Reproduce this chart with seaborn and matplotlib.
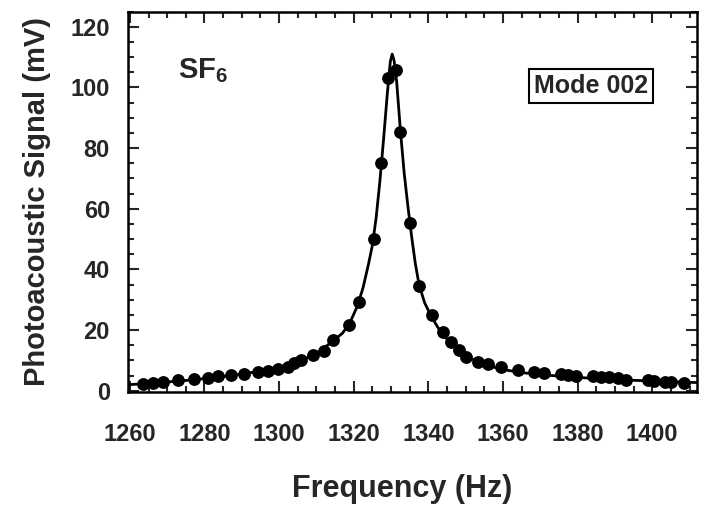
import numpy as np
import pandas as pd
import matplotlib
matplotlib.use("Agg")
import matplotlib.pyplot as plt
import seaborn as sns
from matplotlib.ticker import MultipleLocator

# measured points (frequency in Hz, signal in mV)
freq_pts = [1263.5, 1266.2, 1268.8, 1272.9, 1277.3, 1280.9, 1283.6, 1287.1, 1290.7,
            1294.3, 1296.9, 1299.7, 1302.3, 1304.1, 1305.9, 1309.0, 1312.1, 1314.4,
            1318.8, 1321.5, 1325.3, 1327.3, 1329.3, 1331.3, 1332.4, 1335.1, 1337.5,
            1341.1, 1343.8, 1346.1, 1348.3, 1350.1, 1353.2, 1355.9, 1359.5, 1363.9,
            1368.4, 1371.0, 1375.5, 1377.3, 1379.6, 1384.0, 1386.2, 1388.5, 1390.7,
            1393.0, 1398.8, 1400.6, 1403.3, 1405.1, 1408.6]
signal_pts = [2.3, 2.5, 3.0, 3.6, 3.9, 4.3, 4.9, 5.2, 5.5,
              6.3, 6.6, 7.2, 7.9, 9.0, 10.3, 11.8, 13.2, 16.7,
              21.7, 29.4, 50.1, 75.2, 103.0, 105.9, 85.4, 55.2, 34.6,
              25.0, 19.5, 16.2, 13.4, 11.2, 9.5, 8.7, 7.9, 6.8,
              6.2, 5.7, 5.5, 5.2, 4.8, 4.8, 4.6, 4.4, 4.1,
              3.5, 3.5, 3.2, 3.0, 3.0, 2.7]

# fitted curve
freq_fit = [1259.5, 1265, 1270, 1275, 1280, 1285, 1290, 1295, 1300, 1305, 1310,
            1314, 1317, 1319, 1321, 1322.5, 1324, 1325, 1326, 1327, 1328, 1329,
            1329.8, 1330.3, 1330.8, 1331.5, 1332.5, 1333.5, 1334.5, 1335.5, 1336.5,
            1337.5, 1339, 1341, 1343, 1346, 1350, 1355, 1360, 1365, 1370, 1380,
            1390, 1400, 1412]
signal_fit = [2.0, 2.4, 2.9, 3.4, 4.0, 4.7, 5.5, 6.5, 7.7, 9.5, 12.3,
              16.0, 19.0, 22.5, 28.0, 34.0, 42.0, 48.0, 57.0, 69.0, 83.0, 98.0,
              108.5, 111.0, 109.0, 102.0, 86.0, 72.0, 61.0, 51.0, 42.0,
              35.0, 29.0, 24.0, 20.0, 15.5, 11.5, 8.6, 7.0, 6.0, 5.3, 4.4,
              3.7, 3.2, 2.7]

x_ticks = [1260, 1280, 1300, 1320, 1340, 1360, 1380, 1400]
y_ticks = [0, 20, 40, 60, 80, 100, 120]

sns.set_style("ticks")
plt.rcParams["font.family"] = ["Liberation Sans", "DejaVu Sans"]
plt.rcParams["font.weight"] = "bold"
plt.rcParams["mathtext.fontset"] = "custom"
plt.rcParams["mathtext.rm"] = "Liberation Sans:bold"
plt.rcParams["mathtext.default"] = "rm"

fig = plt.figure(figsize=(7.01, 5.05), dpi=100)
ax = fig.add_axes([0.1826, 0.2238, 0.8117, 0.7531])

pts = pd.DataFrame({"f": freq_pts, "s": signal_pts})
fit = pd.DataFrame({"f": freq_fit, "s": signal_fit})

sns.lineplot(data=fit, x="f", y="s", ax=ax, color="black", lw=2.0, sort=False)
sns.scatterplot(data=pts, x="f", y="s", ax=ax, color="black", s=85,
                edgecolor="black", linewidth=0, zorder=3)

ax.set_xlim(1259.5, 1412)
ax.set_ylim(-0.4, 125)
ax.set_xticks(x_ticks)
ax.set_yticks(y_ticks)
ax.xaxis.set_minor_locator(MultipleLocator(5))
ax.yaxis.set_minor_locator(MultipleLocator(5))
ax.tick_params(which="both", direction="in", top=True, right=True,
               labelsize=17, width=1.5)
ax.tick_params(which="major", length=8)
ax.tick_params(which="minor", length=4)
ax.tick_params(axis="x", which="both", pad=22)
ax.tick_params(axis="y", which="both", pad=13)
for sp in ax.spines.values():
    sp.set_linewidth(1.8)
    sp.set_color("black")

ax.set_xlabel("Frequency (Hz)", fontsize=22, fontweight="bold", labelpad=16)
ax.xaxis.set_label_coords(0.482, -0.215)
ax.set_ylabel("Photoacoustic Signal (mV)", fontsize=21, fontweight="bold", labelpad=14)

ax.text(0.088, 0.826, r"SF$_6$", transform=ax.transAxes, fontsize=21,
        fontweight="bold", ha="left", va="baseline")
ax.text(0.814, 0.805, "Mode 002", transform=ax.transAxes, fontsize=18,
        fontweight="bold", ha="center", va="center",
        bbox=dict(boxstyle="square,pad=0.2", fc="white", ec="black", lw=1.5))

fig.savefig("out.png", dpi=100)
